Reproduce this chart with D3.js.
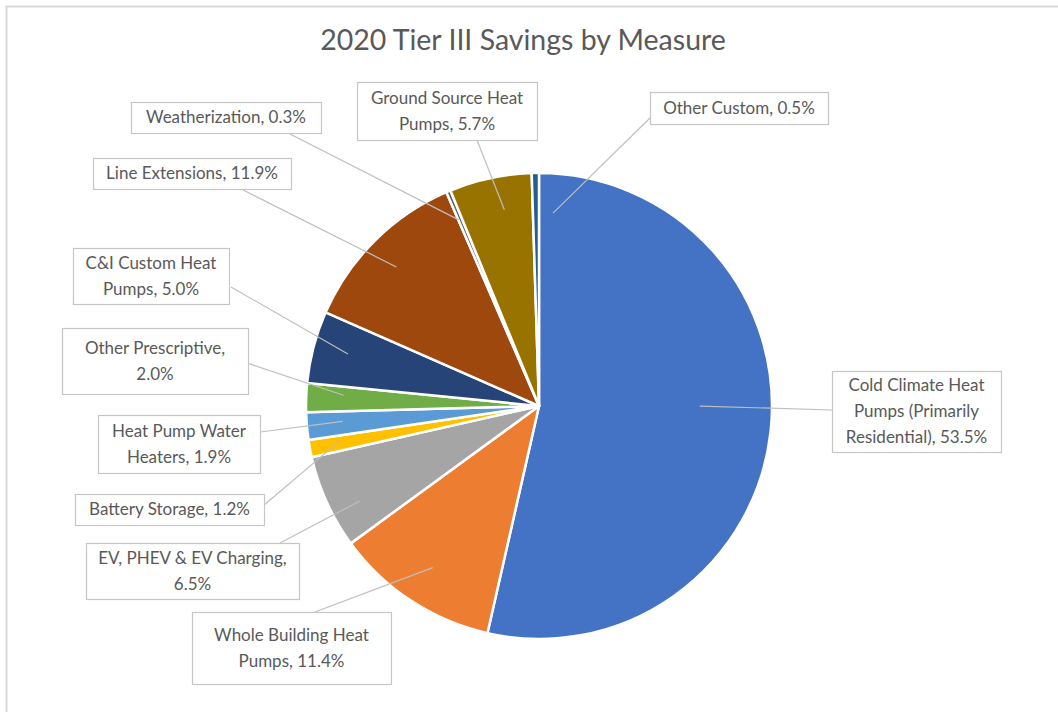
<!DOCTYPE html>
<html>
<head>
<meta charset="utf-8">
<script src="https://cdn.jsdelivr.net/npm/d3@7"></script>
<style>
  html, body { margin: 0; padding: 0; background: #fff; }
  svg { display: block; }
</style>
</head>
<body>
<svg id="chart" width="1058" height="712"></svg>
<script>
// ---- data ----
const title = "2020 Tier III Savings by Measure";
const categories = [
  "Cold Climate Heat Pumps (Primarily Residential)",
  "Whole Building Heat Pumps",
  "EV, PHEV & EV Charging",
  "Battery Storage",
  "Heat Pump Water Heaters",
  "Other Prescriptive",
  "C&I Custom Heat Pumps",
  "Line Extensions",
  "Weatherization",
  "Ground Source Heat Pumps",
  "Other Custom"
];
const values = [53.5, 11.4, 6.5, 1.2, 1.9, 2.0, 5.0, 11.9, 0.3, 5.7, 0.5];
const colors = ["#4472C4", "#ED7D31", "#A5A5A5", "#FFC000", "#5B9BD5", "#70AD47",
                "#264478", "#9E480E", "#636363", "#997300", "#255E91"];

// ---- layout (label boxes, leader starts, anchor inside slice, word breaks) ----
const labelLayout = [
  { box: [832, 371, 1001, 452], from: [832, 410], t: 0.467, k: 0.69, breaks: [3, 5] },
  { box: [192, 612, 391, 684], from: [315, 612], t: 0.5, k: 0.83, breaks: [3] },
  { box: [86, 543, 299, 599], from: [280, 543], t: 0.35, k: 0.87, breaks: [5] },
  { box: [75, 494, 264, 525], from: [263, 506], t: 0.63, k: 0.87, breaks: [] },
  { box: [98, 415, 260, 473], from: [260, 432], t: 0.57, k: 0.845, breaks: [3] },
  { box: [62, 328, 248, 394], from: [247, 363], t: 0.65, k: 0.84, breaks: [2] },
  { box: [73, 248, 229, 304], from: [231, 287], t: 0.53, k: 0.85, breaks: [3] },
  { box: [93, 158, 291, 189], from: [243, 190], t: 0.48, k: 0.855, breaks: [] },
  { box: [131, 102, 321, 133], from: [290, 134], t: 0.1, k: 0.87, breaks: [] },
  { box: [357, 82, 537, 140], from: [477, 140], t: 0.6, k: 0.855, breaks: [3] },
  { box: [650, 92, 828, 124], from: [650, 118], t: 3.3, k: 0.83, breaks: [] }
];

const svg = d3.select("#chart");
const W = 1058, H = 712;
const cx = 539, cy = 406, R = 233;
const textColor = "#595959";
const fontFamily = "Lato, 'Open Sans', sans-serif";

// chart area border
svg.append("rect")
  .attr("x", 6.5).attr("y", 6.5)
  .attr("width", W + 20).attr("height", H + 20)
  .attr("fill", "#fff").attr("stroke", "#d9d9d9").attr("stroke-width", 2);

// title
svg.append("text")
  .attr("x", 523).attr("y", 50)
  .attr("text-anchor", "middle")
  .attr("font-family", fontFamily)
  .attr("font-size", 28.5)
  .attr("fill", textColor)
  .text(title);

const data = categories.map((c, i) => ({ name: c, value: values[i], color: colors[i], layout: labelLayout[i] }));

const pie = d3.pie().value(d => d.value).sort(null);
const arcs = pie(data);
const arc = d3.arc().innerRadius(0).outerRadius(R);

const g = svg.append("g").attr("transform", `translate(${cx},${cy})`);

g.selectAll("path.slice")
  .data(arcs)
  .join("path")
  .attr("class", "slice")
  .attr("d", arc)
  .attr("fill", d => d.data.color)
  .attr("stroke", "#fff")
  .attr("stroke-width", 2.5)
  .attr("stroke-linejoin", "round");

// leader lines
const leaders = svg.append("g");
arcs.forEach(a => {
  const L = a.data.layout;
  const ang = a.startAngle + L.t * (a.endAngle - a.startAngle);
  const rr = L.k * R;
  const ex = cx + rr * Math.sin(ang);
  const ey = cy - rr * Math.cos(ang);
  leaders.append("line")
    .attr("x1", L.from[0]).attr("y1", L.from[1])
    .attr("x2", ex).attr("y2", ey)
    .attr("stroke", "#bfbfbf")
    .attr("stroke-width", 1.2);
});

// label boxes
const labels = svg.append("g");
arcs.forEach(a => {
  const L = a.data.layout;
  const [x0, y0, x1, y1] = L.box;
  const full = a.data.name + ", " + d3.format(".1f")(a.data.value) + "%";
  const words = full.split(" ");
  const cuts = [0, ...L.breaks, words.length];
  const lines = [];
  for (let i = 0; i < cuts.length - 1; i++) lines.push(words.slice(cuts[i], cuts[i + 1]).join(" "));
  labels.append("rect")
    .attr("x", x0 + 0.5).attr("y", y0 + 0.5)
    .attr("width", x1 - x0).attr("height", y1 - y0)
    .attr("fill", "#fff")
    .attr("stroke", "#c6c6c6")
    .attr("stroke-width", 1.2);
  const lh = 26;
  const mid = (y0 + y1) / 2;
  const startY = mid - (lines.length - 1) * lh / 2;
  const t = labels.append("text")
    .attr("text-anchor", "middle")
    .attr("font-family", fontFamily)
    .attr("font-size", 17)
    .attr("fill", textColor);
  lines.forEach((ln, i) => {
    t.append("tspan")
      .attr("x", (x0 + x1) / 2)
      .attr("y", startY + i * lh)
      .attr("dy", "0.35em")
      .text(ln);
  });
});
</script>
</body>
</html>
